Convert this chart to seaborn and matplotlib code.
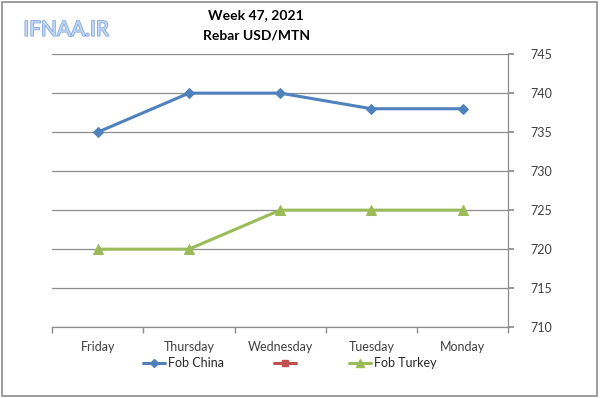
import matplotlib
matplotlib.use("Agg")
import matplotlib.pyplot as plt
import matplotlib.patheffects as pe
import seaborn as sns
import pandas as pd
from matplotlib.lines import Line2D
from matplotlib.patches import Rectangle

# ── Data ──────────────────────────────────────────────────────────────
days = ["Friday", "Thursday", "Wednesday", "Tuesday", "Monday"]
fob_china = [735, 740, 740, 738, 738]
fob_turkey = [720, 720, 725, 725, 725]
y_ticks = [710, 715, 720, 725, 730, 735, 740, 745]

BLUE, RED, GREEN = "#4F81BD", "#C0504D", "#9BBB59"

sns.set_theme(style="white")
plt.rcParams["font.family"] = ["Lato", "DejaVu Sans"]

df = pd.DataFrame({"day": days, "china": fob_china, "turkey": fob_turkey})
df["pos"] = range(len(days))

fig = plt.figure(figsize=(6, 3.98), dpi=100)
ax = fig.add_axes([0.087, 0.178, 0.76, 0.686])

sns.lineplot(data=df, x="pos", y="china", ax=ax, color=BLUE, lw=2.2,
             marker="D", markersize=5, markeredgecolor=BLUE)
sns.lineplot(data=df, x="pos", y="turkey", ax=ax, color=GREEN, lw=2.2,
             marker="^", markersize=6.5, markeredgecolor=GREEN)

ax.set_xlim(-0.5, len(days) - 0.5)
ax.set_ylim(y_ticks[0], y_ticks[-1])
ax.set_yticks(y_ticks)
ax.yaxis.tick_right()
ax.yaxis.set_label_position("right")
ax.set_xticks(range(len(days)))
ax.set_xticklabels(days)
ax.set_xlabel("")
ax.set_ylabel("")
ax.grid(axis="y", color="#8C8C8C", lw=0.9)
ax.grid(axis="x", visible=False)

for side in ["top", "left"]:
    ax.spines[side].set_visible(False)
for side in ["right", "bottom"]:
    ax.spines[side].set_visible(True)
    ax.spines[side].set_color("#8C8C8C")
    ax.spines[side].set_linewidth(0.9)

# category-boundary ticks on x, outward ticks on y
ax.set_xticks([i - 0.5 for i in range(len(days) + 1)], minor=True)
ax.tick_params(axis="x", which="major", length=0, pad=10, labelsize=9, colors="#404040")
ax.tick_params(axis="x", which="minor", length=4, color="#8C8C8C", bottom=True)
ax.tick_params(axis="y", length=4, color="#8C8C8C", right=True, pad=12,
               labelsize=9, labelcolor="#404040")

# legend with the empty middle series
handles = [
    Line2D([], [], color=BLUE, lw=2.2, marker="D", markersize=4.5),
    Line2D([], [], color=RED, lw=2.2, marker="s", markersize=5),
    Line2D([], [], color=GREEN, lw=2.2, marker="^", markersize=5.5),
]
fig.legend(handles, ["Fob China", "", "Fob Turkey"], loc="center",
           bbox_to_anchor=(0.483, 0.088), ncol=3, frameon=False, fontsize=9,
           handlelength=1.8, handletextpad=0.2, columnspacing=4.0)

fig.text(0.427, 0.962, "Week 47, 2021", ha="center", va="center",
         fontsize=10, fontweight="bold", color="black")
fig.text(0.427, 0.912, "Rebar USD/MTN", ha="center", va="center",
         fontsize=10, fontweight="bold", color="black")
fig.text(0.11, 0.925, "IFNAA.IR", ha="center", va="center", fontsize=15,
         color="#C2D7F4",
         path_effects=[pe.withStroke(linewidth=1.1, foreground="#7FA3D6")])

fig.patches.append(Rectangle((0.003, 0.005), 0.992, 0.99, transform=fig.transFigure,
                             fill=False, edgecolor="#8C8C8C", lw=1.2))

fig.savefig("out.png", dpi=100)
